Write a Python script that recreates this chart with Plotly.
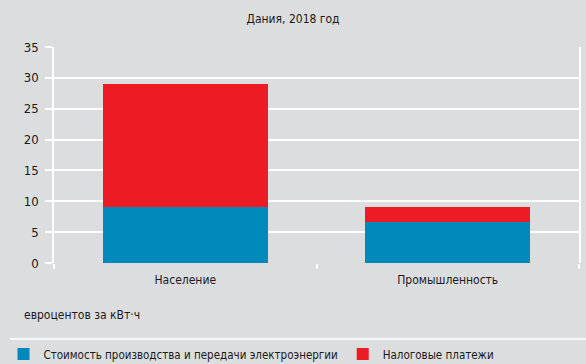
import plotly.graph_objects as go

categories = ["Население", "Промышленность"]
cost_values = [9.0, 6.6]
tax_values = [20.0, 2.5]
series_names = ["Стоимость производства и передачи электроэнергии", "Налоговые платежи"]
y_ticks = [0, 5, 10, 15, 20, 25, 30, 35]

FONT = "DejaVu Sans Condensed, Roboto, sans-serif"
BG = "#dcdddf"
TXT = "#1a1a1a"

fig = go.Figure()
fig.add_trace(go.Bar(x=categories, y=cost_values, name=series_names[0],
                     marker=dict(color="#0089bb", line=dict(width=0)), width=0.63))
fig.add_trace(go.Bar(x=categories, y=tax_values, name=series_names[1],
                     marker=dict(color="#ed1c24", line=dict(width=0)), width=0.63))

fig.update_layout(
    barmode="stack",
    width=586, height=364,
    paper_bgcolor=BG, plot_bgcolor=BG,
    margin=dict(l=54, r=7, t=47, b=101, autoexpand=False),
    font=dict(family=FONT, size=12, color=TXT),
    title=dict(text="Дания, 2018 год", x=0.5, xanchor="center", y=1 - 19/364, yanchor="middle",
               font=dict(family=FONT, size=12, color=TXT)),
    showlegend=True,
    legend=dict(orientation="h", xref="container", yref="container",
                x=0.006, xanchor="left", y=1 - 354/364, yanchor="middle",
                font=dict(family=FONT, size=11.5, color=TXT),
                bgcolor="rgba(0,0,0,0)", itemwidth=30, traceorder="normal"),
    xaxis=dict(showgrid=False, showline=False, zeroline=False,
               ticks="outside", tickson="boundaries", ticklen=5, tickcolor="white", tickwidth=1.5,
               ticklabelstandoff=8, range=[-0.5, 1.5]),
    yaxis=dict(range=[0, 35], tickvals=y_ticks, showgrid=True, gridcolor="white", gridwidth=1.5,
               zeroline=False, showline=True, linecolor="white", linewidth=1.5, mirror=True,
               ticks="outside", ticklen=7, tickcolor="white", tickwidth=1.5,
               ticklabelstandoff=4, tickfont=dict(size=13)),
    annotations=[dict(text="евроцентов за кВт·ч", xref="paper", yref="paper",
                      x=(22 - 54) / 525, y=(263 - 315) / 216, xanchor="left", yanchor="middle",
                      showarrow=False, font=dict(family=FONT, size=12, color=TXT))],
    shapes=[dict(type="line", xref="paper", yref="paper", x0=(10 - 54) / 525, x1=(586 - 54) / 525,
                 y0=(263 - 339) / 216, y1=(263 - 339) / 216, line=dict(color="white", width=1.5))],
)

fig.write_html("out.html", config={"displayModeBar": False},
               post_script="document.body.style.margin='0';document.body.style.background='%s';" % BG)
